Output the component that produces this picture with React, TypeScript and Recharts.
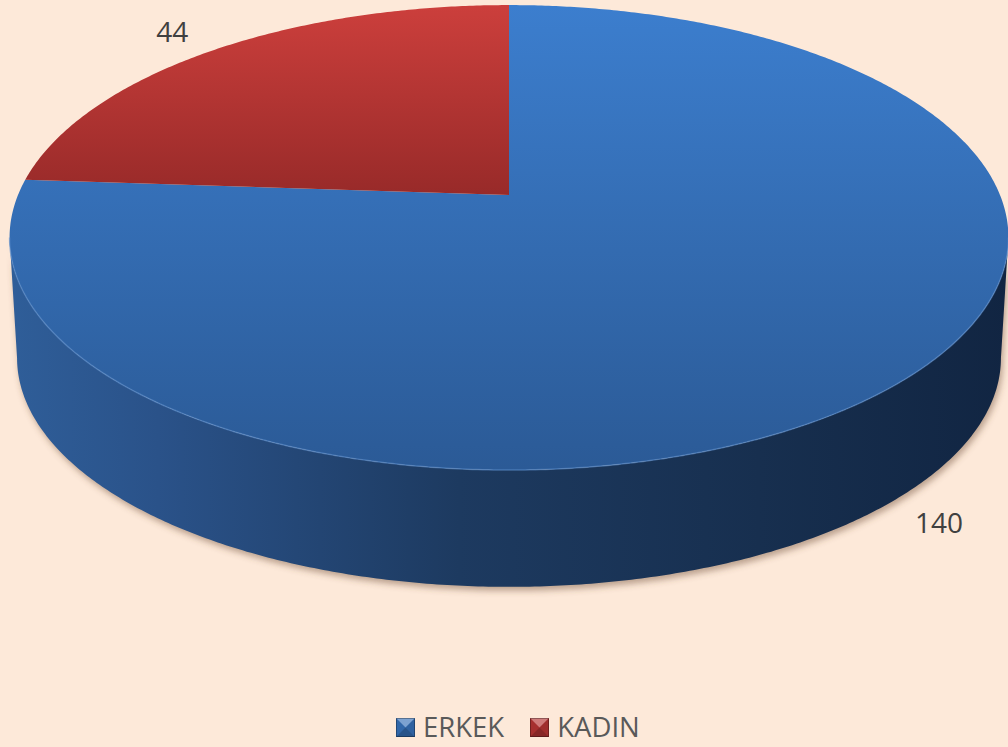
import React from 'react';
import { PieChart, Pie, Cell, Legend } from 'recharts';

// ---- data ----
const categories = ['ERKEK', 'KADIN'];
const values = [140, 44];
const sliceColors = ['#3670B8', '#B53534'];

const data = categories.map((name, i) => ({ name, value: values[i] }));
const colorOf: Record<string, string> = {};
categories.forEach((c, i) => (colorOf[c] = sliceColors[i]));

// ---- 3D look parameters ----
const W = 1008;
const H = 747;
const K = 0.183; // perspective factor
const RY_RATIO = 0.4576; // vertical squash of the tilted disc
const DEPTH_RATIO = 0.2464; // thickness relative to radius
const BOTTOM_SCALE = 0.985; // bottom rim is a little further away
const FONT = '"Open Sans", "Liberation Sans", sans-serif';

const topGrad: Record<number, [string, string]> = {
  0: ['#3C7ECE', '#2B5A96'],
  1: ['#CC3F3C', '#982A29'],
};

function proj(angleDeg: number, r: number, cx: number, cy: number, rx: number, bottom = false): [number, number] {
  const t = (angleDeg * Math.PI) / 180;
  const u = r * Math.cos(t);
  const v = r * Math.sin(t);
  const w = 1 + K * v;
  const X = (rx * u) / w;
  const Y = -(RY_RATIO * rx * v) / w;
  if (!bottom) return [cx + X, cy + Y];
  return [cx + BOTTOM_SCALE * X, cy + DEPTH_RATIO * rx + BOTTOM_SCALE * Y];
}

function arcPts(a: number, b: number, cx: number, cy: number, rx: number, bottom = false) {
  const n = Math.max(2, Math.ceil(Math.abs(b - a) / 0.5));
  const pts: string[] = [];
  for (let i = 0; i <= n; i++) {
    const ang = a + ((b - a) * i) / n;
    const p = proj(ang, 1, cx, cy, rx, bottom);
    pts.push(`${p[0].toFixed(2)},${p[1].toFixed(2)}`);
  }
  return pts;
}

const renderSlice = (props: any) => {
  const { cx, cy, outerRadius, startAngle, endAngle, index, value } = props;
  const rx = outerRadius;
  const top = arcPts(startAngle, endAngle, cx, cy, rx);
  const topD = `M${cx},${cy} L${top.join(' L')} Z`;

  // visible front wall ranges
  const sil = (Math.asin(-K) * 180) / Math.PI; // about -10.5
  const visA = 180 - sil;
  const visB = 360 + sil;
  const lo = Math.min(startAngle, endAngle);
  const hi = Math.max(startAngle, endAngle);
  const walls: { d: string; rim: string }[] = [];
  for (let n = -3; n <= 3; n++) {
    const a = Math.max(lo, visA + 360 * n);
    const b = Math.min(hi, visB + 360 * n);
    if (a < b) {
      const upper = arcPts(a, b, cx, cy, rx);
      const lower = arcPts(b, a, cx, cy, rx, true);
      walls.push({ d: `M${upper.join(' L')} L${lower.join(' L')} Z`, rim: `M${upper.join(' L')}` });
    }
  }

  // label position
  const mid = (startAngle + endAngle) / 2;
  const t = (mid * Math.PI) / 180;
  const front = Math.sin(t) < 0;
  const rim = proj(mid, 1, cx, cy, rx, front);
  const lx = rim[0] + 66 * Math.cos(t) + 4;
  const ly = rim[1] - 26 * Math.sin(t);

  const g = topGrad[index] || [sliceColors[index], sliceColors[index]];
  const wallId = `wall-${index}`;
  const topId = `top-${index}`;
  const blurId = `blur-${index}`;
  return (
    <g>
      <defs>
        <linearGradient id={topId} x1="0" y1="0" x2="0" y2="1">
          <stop offset="0" stopColor={g[0]} />
          <stop offset="1" stopColor={g[1]} />
        </linearGradient>
        <linearGradient id={wallId} gradientUnits="userSpaceOnUse" x1={cx - rx * 1.02} y1="0" x2={cx + rx * 1.02} y2="0">
          <stop offset="0" stopColor="#2F5E99" />
          <stop offset="0.15" stopColor="#2A5289" />
          <stop offset="0.45" stopColor="#1D3A60" />
          <stop offset="0.75" stopColor="#172F4F" />
          <stop offset="1" stopColor="#112542" />
        </linearGradient>
        <filter id={blurId} x="-10%" y="-10%" width="120%" height="130%">
          <feGaussianBlur stdDeviation="3" />
        </filter>
      </defs>
      {walls.map((w, i) => (
        <path key={`s${i}`} d={w.d} transform="translate(2,4)" fill="#6B4A35" fillOpacity={0.45} filter={`url(#${blurId})`} />
      ))}
      {walls.map((w, i) => (
        <path key={`w${i}`} d={w.d} fill={`url(#${wallId})`} />
      ))}
      <path d={topD} fill={`url(#${topId})`} />
      {walls.map((w, i) => (
        <path key={`r${i}`} d={w.rim} fill="none" stroke="#5C8FD0" strokeOpacity={0.55} strokeWidth={1.5} />
      ))}
      <text x={lx} y={ly} textAnchor="middle" dominantBaseline="central" fontFamily={FONT} fontSize={28} fill="#404040">
        {value}
      </text>
    </g>
  );
};

const LegendIcon = ({ color }: { color: string }) => (
  <svg width={19} height={19} style={{ display: 'block' }}>
    <rect x={0} y={0} width={19} height={19} fill={color} />
    <polygon points="0,0 19,0 9.5,9.5" fill="#ffffff" fillOpacity={0.35} />
    <polygon points="0,19 19,19 9.5,9.5" fill="#000000" fillOpacity={0.25} />
    <polygon points="0,0 0,19 9.5,9.5" fill="#000000" fillOpacity={0.08} />
    <polygon points="19,0 19,19 9.5,9.5" fill="#000000" fillOpacity={0.12} />
    <rect x={0.5} y={0.5} width={18} height={18} fill="none" stroke="#000" strokeOpacity={0.3} />
  </svg>
);

const LegendContent = (props: any) => {
  const payload = props.payload || [];
  return (
    <div style={{ display: 'flex', alignItems: 'center', height: 38, fontFamily: FONT, fontSize: 27.5, color: '#595959' }}>
      {payload.map((p: any, i: number) => (
        <div key={i} style={{ display: 'flex', alignItems: 'center', marginRight: 26 }}>
          <LegendIcon color={colorOf[p.value] || p.color} />
          <span style={{ marginLeft: 8, lineHeight: '38px' }}>{p.value}</span>
        </div>
      ))}
    </div>
  );
};

export default function App() {
  return (
    <div style={{ width: W, height: H, background: '#FDE9D9', position: 'relative', overflow: 'hidden' }}>
      <style>{'body{margin:0;}'}</style>
      <PieChart width={W} height={H} margin={{ top: 0, right: 0, bottom: 0, left: 0 }}>
        <Pie
          data={data}
          dataKey="value"
          nameKey="name"
          cx={509}
          cy={195}
          outerRadius={491}
          startAngle={90}
          endAngle={-270}
          stroke="none"
          labelLine={false}
          label={renderSlice}
          isAnimationActive={false}
        >
          {data.map((d) => (
            <Cell key={d.name} fill="none" stroke="none" />
          ))}
        </Pie>
        <Legend
          content={<LegendContent />}
          wrapperStyle={{ position: 'absolute', left: 396, top: 708, width: 600, height: 38 }}
        />
      </PieChart>
    </div>
  );
}
